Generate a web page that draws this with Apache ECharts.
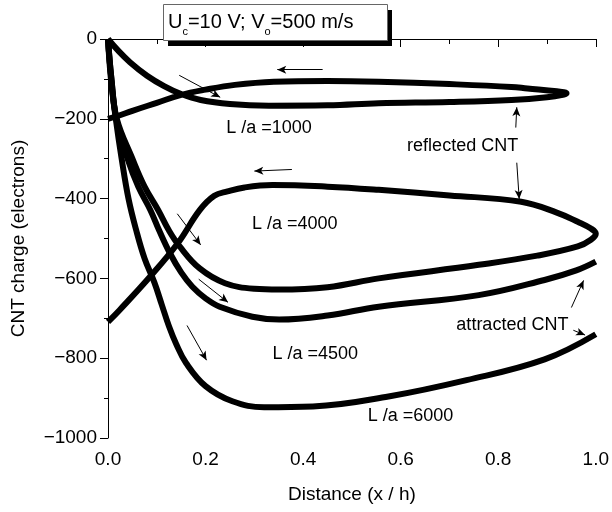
<!DOCTYPE html>
<html>
<head>
<meta charset="utf-8">
<script src="https://cdn.jsdelivr.net/npm/echarts@6/dist/echarts.min.js"></script>
<style>
  html, body { margin: 0; padding: 0; background: #fff; }
  #chart { width: 612px; height: 512px; }
</style>
</head>
<body>
<div id="chart"></div>
<script>
// trajectories: [x/h, charge]
const la1000 = [
  [0, 0], [0.02, -28], [0.045, -58], [0.08, -92], [0.115, -118], [0.15, -138],
  [0.19, -153], [0.25, -163], [0.33, -167], [0.45, -166], [0.555, -161],
  [0.7, -158], [0.827, -153], [0.9, -146], [0.935, -139], [0.94, -136],
  [0.92, -131], [0.86, -124], [0.827, -120], [0.7, -113], [0.555, -107],
  [0.45, -105], [0.34, -107], [0.26, -115], [0.2, -127], [0.15, -140],
  [0.1, -160], [0.05, -180], [0.02, -193], [0, -200]
];
const la4000 = [
  [0, 0], [0.007, -100], [0.018, -200], [0.05, -300], [0.075, -370],
  [0.103, -429], [0.125, -480], [0.147, -520], [0.188, -575], [0.24, -612],
  [0.3, -626], [0.35, -628], [0.45, -622], [0.555, -600], [0.76, -566],
  [0.88, -543], [0.963, -520], [0.99, -503], [1.0, -488], [0.99, -475],
  [0.963, -458], [0.92, -435], [0.847, -408], [0.7, -392], [0.555, -378],
  [0.45, -370], [0.337, -366], [0.28, -372], [0.245, -382], [0.218, -393],
  [0.188, -429], [0.143, -512], [0.086, -596], [0.024, -679], [0, -709]
];
const la4500 = [
  [0, 0], [0.007, -100], [0.017, -200], [0.04, -300], [0.062, -370],
  [0.087, -429], [0.105, -480], [0.127, -537], [0.15, -585], [0.173, -621],
  [0.2, -650], [0.229, -671], [0.296, -696], [0.351, -703], [0.45, -693],
  [0.555, -671], [0.76, -642], [0.895, -604], [0.96, -580], [1.0, -558]
];
const la6000 = [
  [0, 0], [0.006, -100], [0.016, -200], [0.028, -300], [0.042, -400],
  [0.058, -480], [0.075, -550], [0.095, -610], [0.11, -665], [0.125, -720],
  [0.14, -765], [0.16, -812], [0.2, -870], [0.255, -908], [0.32, -923],
  [0.42, -921], [0.575, -896], [0.735, -855], [0.895, -803], [1.0, -740]
];

// arrows: [from, to]
const arrows = [
  [[0.146, -91], [0.23, -146]],
  [[0.44, -77], [0.347, -77]],
  [[0.377, -327], [0.30, -331]],
  [[0.836, -222], [0.838, -171]],
  [[0.838, -310], [0.843, -401]],
  [[0.142, -438], [0.19, -516]],
  [[0.186, -602], [0.246, -660]],
  [[0.162, -718], [0.202, -805]],
  [[0.95, -673], [0.975, -605]],
  [[0.954, -730], [0.978, -742]]
];

// text notes: [x, y, text]
const notes = [
  [0.33, -222, 'L /a =1000'],
  [0.383, -463, 'L /a =4000'],
  [0.425, -790, 'L /a =4500'],
  [0.62, -945, 'L /a =6000'],
  [0.727, -268, 'reflected CNT'],
  [0.829, -718, 'attracted CNT']
];

const curves = [
  ['L/a=1000', la1000],
  ['L/a=4000', la4000],
  ['L/a=4500', la4500],
  ['L/a=6000', la6000]
];

const FONT = '"Liberation Sans", Arial, sans-serif';

const chart = echarts.init(document.getElementById('chart'));

const series = curves.map(([name, pts]) => ({
  name: name,
  type: 'line',
  data: pts,
  showSymbol: false,
  smooth: 0.4,
  lineStyle: { color: '#000', width: 6 },
  silent: true
}));

series.push({
  type: 'scatter',
  data: notes,
  symbolSize: 0,
  silent: true,
  itemStyle: { opacity: 1, color: '#000' },
  label: {
    show: true,
    position: 'inside',
    formatter: p => p.data[2],
    color: '#000',
    opacity: 1,
    textBorderWidth: 0,
    fontSize: 18,
    fontFamily: FONT
  },
  markLine: {
    silent: true,
    symbol: ['none', 'arrow'],
    symbolSize: [6, 9],
    label: { show: false },
    lineStyle: { color: '#000', width: 1, type: 'solid', opacity: 1 },
    data: arrows.map(a => [{ coord: a[0] }, { coord: a[1] }])
  }
});

const option = {
  animation: false,
  backgroundColor: '#fff',
  grid: { left: 108, right: 14, top: 39, bottom: 74 },
  xAxis: {
    type: 'value',
    min: 0, max: 1, interval: 0.2,
    name: 'Distance (x / h)',
    nameLocation: 'middle',
    nameGap: 47,
    nameTextStyle: { fontSize: 19, color: '#000', fontFamily: FONT },
    axisLine: { lineStyle: { color: '#000', width: 1 } },
    axisTick: { show: true, length: 8, lineStyle: { color: '#000' } },
    minorTick: { show: true, splitNumber: 2, length: 5, lineStyle: { color: '#000' } },
    splitLine: { show: false },
    axisLabel: {
      color: '#000', fontSize: 19, fontFamily: FONT, margin: 12,
      formatter: v => v.toFixed(1)
    }
  },
  yAxis: {
    type: 'value',
    min: -1000, max: 0, interval: 200,
    name: 'CNT charge (electrons)',
    nameLocation: 'middle',
    nameGap: 80,
    nameTextStyle: { fontSize: 19, color: '#000', fontFamily: FONT },
    axisLine: { show: true, lineStyle: { color: '#000', width: 1 } },
    axisTick: { show: true, length: 8, lineStyle: { color: '#000' } },
    minorTick: { show: true, splitNumber: 2, length: 4, lineStyle: { color: '#000' } },
    splitLine: { show: false },
    axisLabel: {
      color: '#000', fontSize: 19, fontFamily: FONT, margin: 11,
      formatter: v => (v < 0 ? '\u2212' + Math.abs(v) : String(v))
    }
  },
  graphic: [
    { type: 'rect', left: 168, top: 10, z: 100, shape: { width: 224, height: 36 }, style: { fill: '#000' } },
    { type: 'rect', left: 163, top: 4, z: 101, shape: { width: 224, height: 36 }, style: { fill: '#fff', stroke: '#666', lineWidth: 1 } },
    {
      type: 'text', left: 168, top: 12, z: 102,
      style: {
        text: '{m|U}{s|c}{m|=10 V; V}{s|o}{m|=500 m/s}',
        fill: '#000',
        font: '20px ' + FONT,
        rich: {
          m: { fontSize: 20, fontFamily: FONT, lineHeight: 24, verticalAlign: 'top' },
          s: { fontSize: 11, fontFamily: FONT, lineHeight: 11, padding: [14, 0, 0, 0], verticalAlign: 'top' }
        }
      }
    }
  ],
  series: series
};

chart.setOption(option);
</script>
</body>
</html>
